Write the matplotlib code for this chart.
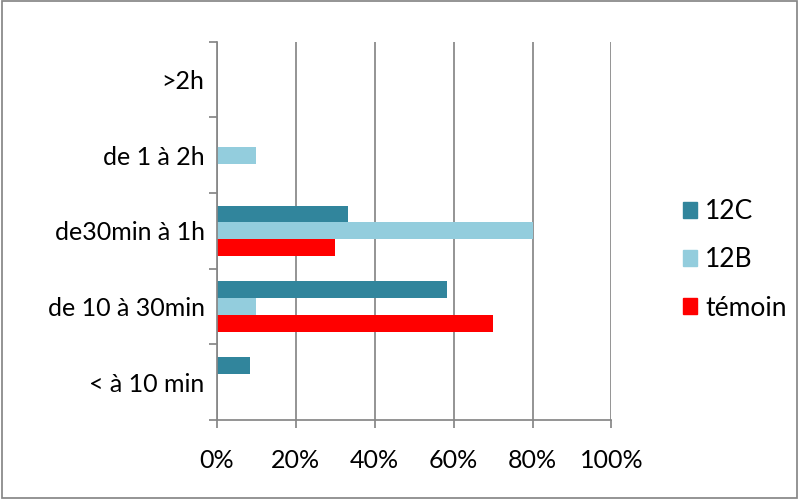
import matplotlib.pyplot as plt
import numpy as np
from matplotlib.patches import Rectangle, Patch
from matplotlib.ticker import FixedLocator, PercentFormatter

plt.rcParams['font.family'] = ['Lato', 'DejaVu Sans']

categories = ["< à 10 min", "de 10 à 30min", "de30min à 1h", "de 1 à 2h", ">2h"]
series_names = ["12C", "12B", "témoin"]
val_12c = [8.3, 58.3, 33.3, 0, 0]
val_12b = [0, 10, 80, 10, 0]
val_temoin = [0, 70, 30, 0, 0]
colors = ["#31859C", "#93CDDD", "#FF0000"]

grid_col = "#868686"

fig = plt.figure(figsize=(7.99, 4.99), dpi=100)
ax = fig.add_axes([0.2716, 0.1583, 0.7653 - 0.2716, 0.9164 - 0.1583])

# bars (12C on top of each group, témoin at the bottom)
bw = 1 / 4.5
y = np.arange(len(categories))
for k, (vals, col) in enumerate(zip([val_12c, val_12b, val_temoin], colors)):
    ax.barh(y + (1 - k) * bw, vals, height=bw, color=col, zorder=3)

ax.set_xlim(0, 100)
ax.set_ylim(-0.5, len(categories) - 0.5)

ax.xaxis.set_major_locator(FixedLocator([0, 20, 40, 60, 80, 100]))
ax.xaxis.set_major_formatter(PercentFormatter(decimals=0))
ax.grid(axis='x', color=grid_col, linewidth=1.25, zorder=1)

# y ticks at boundaries, labels at centres
ax.set_yticks(np.arange(-0.5, len(categories)), minor=False)
ax.set_yticklabels([])
ax.set_yticks(y, minor=True)
ax.set_yticklabels(categories, minor=True)
ax.tick_params(axis='y', which='major', length=6, width=1.25, color=grid_col, direction='out')
ax.tick_params(axis='y', which='minor', length=0, pad=9, labelsize=18)
ax.tick_params(axis='x', length=6, width=1.25, color=grid_col, direction='out', labelsize=18, pad=15)

for s in ['top', 'right']:
    ax.spines[s].set_visible(False)
for s in ['left', 'bottom']:
    ax.spines[s].set_color(grid_col)
    ax.spines[s].set_linewidth(1.25)
    ax.spines[s].set_zorder(4)

handles = [Patch(color=c, label=n) for c, n in zip(colors, series_names)]
fig.legend(handles=handles, loc='center left', bbox_to_anchor=(0.841, 0.479),
           frameon=False, fontsize=19, handlelength=0.55, handleheight=0.55,
           handletextpad=0.3, labelspacing=0.88, borderaxespad=0)

# outer frame of the chart
fig.patches.append(Rectangle((0.002, 0.003), 0.996, 0.994, transform=fig.transFigure,
                             fill=False, edgecolor=grid_col, linewidth=1.25))

fig.savefig("out.png", dpi=100)
